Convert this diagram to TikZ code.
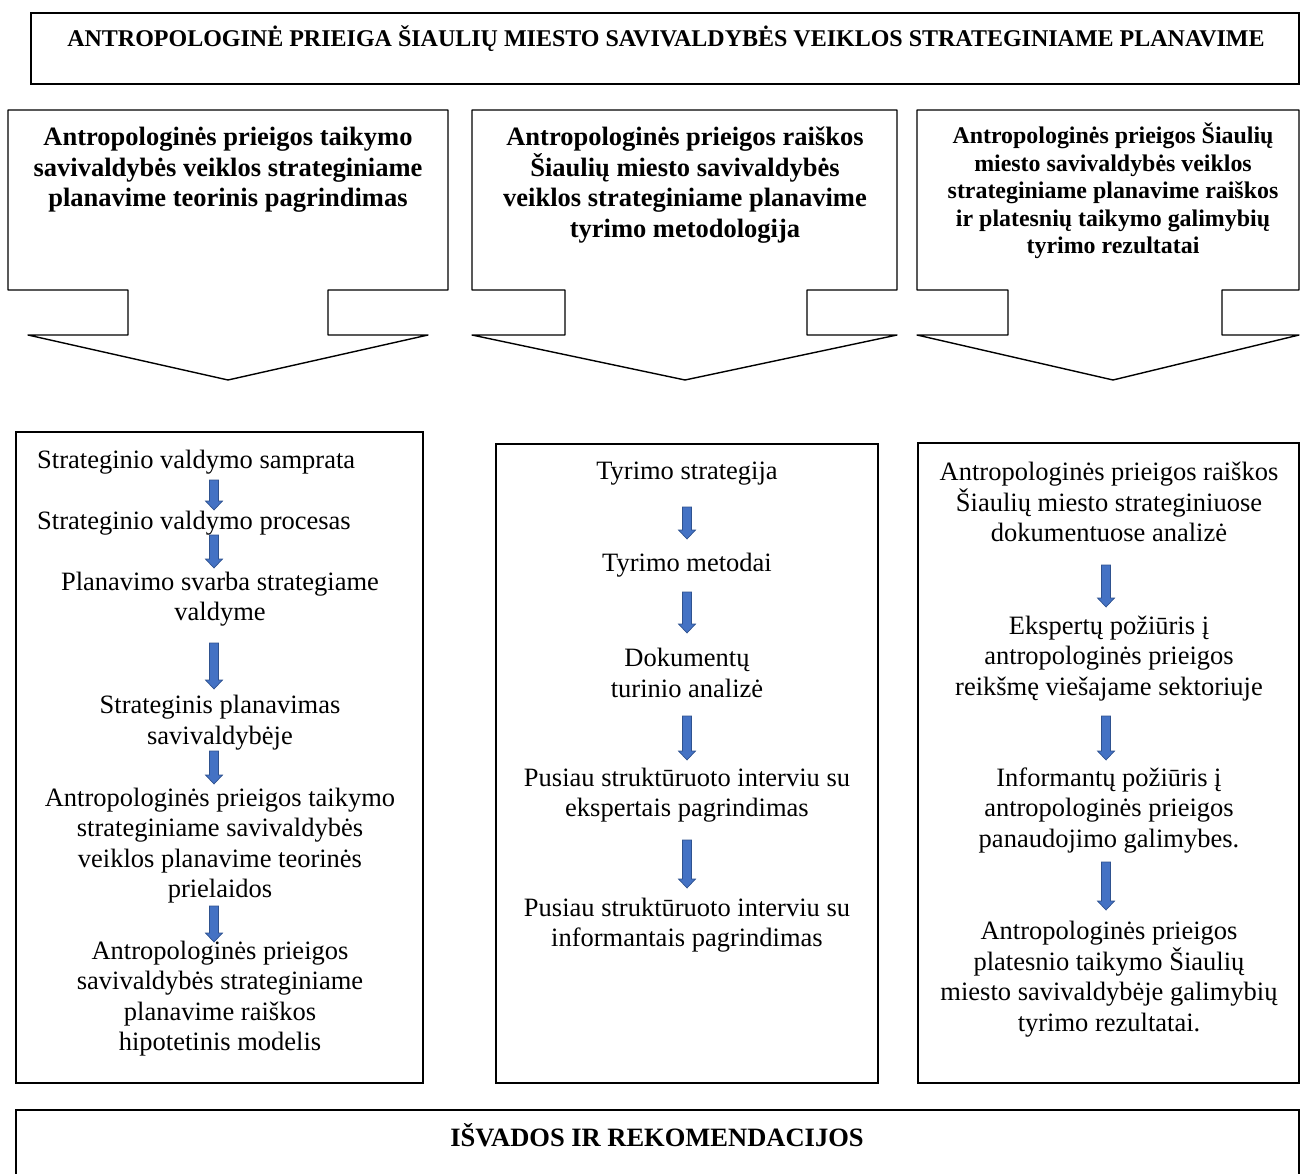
\documentclass[tikz,border=0pt]{standalone}
\usepackage{fontspec}
\setmainfont{Liberation Serif}
\definecolor{arrfill}{RGB}{68,114,196}
\definecolor{arrline}{RGB}{47,82,143}
\newcommand\dnarrow[3]{%
  \filldraw[arrowshape] (#1-4.5,#2) -- (#1+4.5,#2) -- (#1+4.5,#3-9) -- (#1+8.5,#3-9)
    -- (#1,#3) -- (#1-8.5,#3-9) -- (#1-4.5,#3-9) -- cycle;}
\begin{document}
\begin{tikzpicture}[x=1pt,y=-1pt,
  frame/.style={draw=black,line width=1.8pt},
  callout/.style={draw=black,line width=1.4pt,line join=round},
  arrowshape/.style={fill=arrfill,draw=arrline,line width=0.7pt},
  body/.style={inner sep=0pt,align=center,font=\fontsize{26.5}{30.5}\selectfont},
  hdr/.style={inner sep=0pt,align=center,font=\fontsize{26.5}{30.5}\selectfont\bfseries},
  hdrs/.style={inner sep=0pt,align=center,font=\fontsize{23.9}{27.5}\selectfont\bfseries}]
\useasboundingbox (0,0) rectangle (1300,1174);
\clip (0,0) rectangle (1300,1174);
% title
\draw[frame] (31,13) rectangle (1299,84);
\node[inner sep=0pt,font=\fontsize{24}{28}\selectfont\bfseries] (title) at (666,39)
  {ANTROPOLOGINĖ PRIEIGA ŠIAULIŲ MIESTO SAVIVALDYBĖS VEIKLOS STRATEGINIAME PLANAVIME};
% callouts
\draw[callout] (8,110) -- (448,110) -- (448,290) -- (328,290) -- (328,335) -- (428,335)
  -- (228,380) -- (28,335) -- (128,335) -- (128,290) -- (8,290) -- cycle;
\node[hdr] (h1) at (228,170) {Antropologinės prieigos taikymo\\savivaldybės veiklos strateginiame\\planavime teorinis pagrindimas};
\draw[callout] (472,110) -- (897,110) -- (897,290) -- (807,290) -- (807,335) -- (897,335)
  -- (685,380) -- (472,335) -- (565,335) -- (565,290) -- (472,290) -- cycle;
\node[hdr] (h2) at (685,185) {Antropologinės prieigos raiškos\\Šiaulių miesto savivaldybės\\veiklos strateginiame planavime\\tyrimo metodologija};
\draw[callout] (917,110) -- (1299,110) -- (1299,290) -- (1222,290) -- (1222,335) -- (1299,335)
  -- (1113,380) -- (917,335) -- (1008,335) -- (1008,290) -- (917,290) -- cycle;
\node[hdrs] (h3) at (1113,191) {Antropologinės prieigos Šiaulių\\miesto savivaldybės veiklos\\strateginiame planavime raiškos\\ir platesnių taikymo galimybių\\tyrimo rezultatai};
% content boxes
\draw[frame] (16,432) rectangle (423,1083);
\draw[frame] (496,444) rectangle (878,1083);
\draw[frame] (918,443) rectangle (1299,1083);
% left column
\node[body,anchor=west] (l1) at (37,462) {Strateginio valdymo samprata};
\node[body,anchor=west] (l2) at (37,523) {Strateginio valdymo procesas};
\node[body] (l3) at (220,599) {Planavimo svarba strategiame\\valdyme};
\node[body] (l4) at (220,722.5) {Strateginis planavimas\\savivaldybėje};
\node[body] (l5) at (220,845.5) {Antropologinės prieigos taikymo\\strateginiame savivaldybės\\veiklos planavime teorinės\\prielaidos};
\node[body] (l6) at (220,998.5) {Antropologinės prieigos\\savivaldybės strateginiame\\planavime raiškos\\hipotetinis modelis};
\dnarrow{214}{480}{510}
\dnarrow{214}{535}{568}
\dnarrow{214}{643}{689}
\dnarrow{214}{751}{784}
\dnarrow{214}{906}{942}
% middle column
\node[body] (m1) at (687,474) {Tyrimo strategija};
\node[body] (m2) at (687,565) {Tyrimo metodai};
\node[body] (m3) at (687,673) {Dokumentų\\turinio analizė};
\node[body] (m4) at (687,795) {Pusiau struktūruoto interviu su\\ekspertais pagrindimas};
\node[body] (m5) at (687,925) {Pusiau struktūruoto interviu su\\informantais pagrindimas};
\dnarrow{687}{507}{539}
\dnarrow{687}{592}{633}
\dnarrow{687}{716}{760}
\dnarrow{687}{840}{888}
% right column
\node[body] (r1) at (1109,502) {Antropologinės prieigos raiškos\\Šiaulių miesto strateginiuose\\dokumentuose analizė};
\node[body] (r2) at (1109,658.5) {Ekspertų požiūris į\\antropologinės prieigos\\reikšmę viešajame sektoriuje};
\node[body] (r3) at (1109,810.5) {Informantų požiūris į\\antropologinės prieigos\\panaudojimo galimybes.};
\node[body] (r4) at (1109,979) {Antropologinės prieigos\\platesnio taikymo Šiaulių\\miesto savivaldybėje galimybių\\tyrimo rezultatai.};
\dnarrow{1106}{565}{607}
\dnarrow{1106}{716}{760}
\dnarrow{1106}{862}{910}
% bottom box
\draw[frame] (16,1200) -- (16,1110) -- (1299,1110) -- (1299,1200);
\node[hdr] (concl) at (657,1135) {IŠVADOS IR REKOMENDACIJOS};
\end{tikzpicture}
\end{document}
